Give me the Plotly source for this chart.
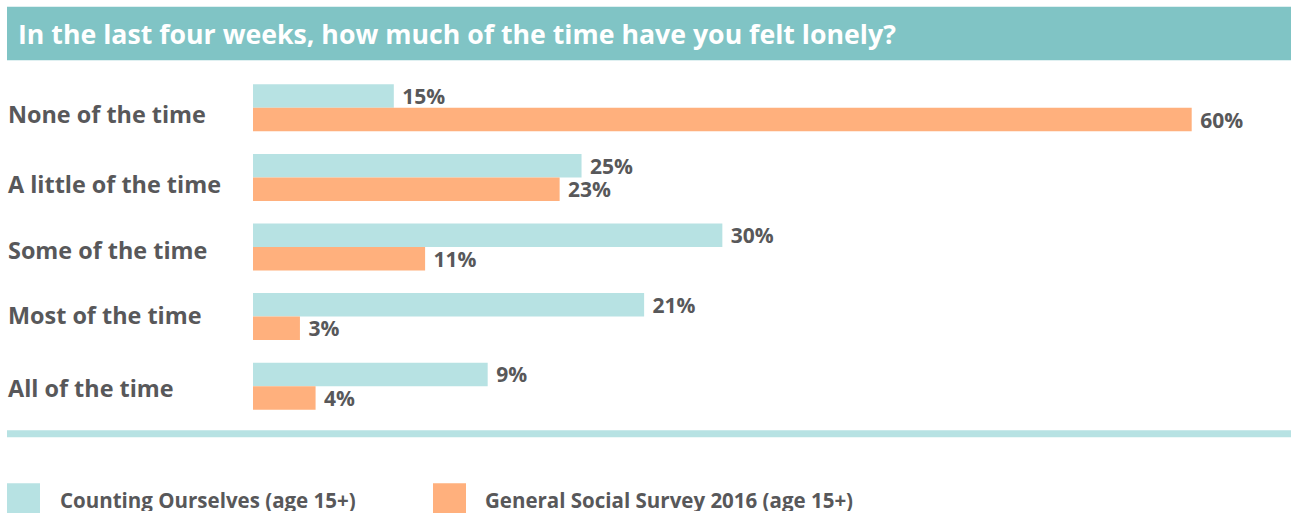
import plotly.graph_objects as go

# ---- data ----
categories = ["None of the time", "A little of the time", "Some of the time",
              "Most of the time", "All of the time"]
# bar lengths as drawn in the reference (percentage-point scale)
counting_bar = [9, 21, 30, 25, 15]
gss_bar = [60, 19.6, 11, 3, 4]
# value labels as printed in the reference
counting_labels = ["15%", "25%", "30%", "21%", "9%"]
gss_labels = ["60%", "23%", "11%", "3%", "4%"]
series_names = ["Counting Ourselves (age 15+)", "General Social Survey 2016 (age 15+)"]
title_text = "In the last four weeks, how much of the time have you felt lonely?"

# ---- style ----
W_PX, H_PX = 1291, 513
L, R_M, T, B_M = 253, 40, 73.25, 92.25
PW = W_PX - L - R_M
PH = H_PX - T - B_M
TEAL = "#b7e2e3"
ORANGE = "#ffb07d"
BANNER = "#80c4c5"
GREY = "#58585a"
FONT = "Open Sans"
XMAX = PW / (938.7 / 60)


def px_x(p):
    return (p - L) / PW


def px_y(p):
    return (T + PH - p) / PH


fig = go.Figure()
for vals, labels, color, name in [(counting_bar, counting_labels, TEAL, series_names[0]),
                                  (gss_bar, gss_labels, ORANGE, series_names[1])]:
    fig.add_trace(go.Bar(
        y=categories, x=vals, orientation="h", name=name,
        marker=dict(color=color, line=dict(width=0)),
        text=[" " + t for t in labels], textposition="outside",
        constraintext="none", cliponaxis=False,
        textfont=dict(family=FONT, size=21, color=GREY, weight="bold"),
        hoverinfo="skip", showlegend=False))

shapes = [
    # title banner
    dict(type="rect", xref="paper", yref="paper", x0=px_x(7), x1=px_x(1291),
         y0=px_y(60.5), y1=px_y(7), fillcolor=BANNER, line=dict(width=0), layer="below"),
    # bottom rule
    dict(type="rect", xref="paper", yref="paper", x0=px_x(7), x1=px_x(1291),
         y0=px_y(437), y1=px_y(430), fillcolor=TEAL, line=dict(width=0)),
    # legend swatches
    dict(type="rect", xref="paper", yref="paper", x0=px_x(7), x1=px_x(40),
         y0=px_y(514), y1=px_y(483), fillcolor=TEAL, line=dict(width=0)),
    dict(type="rect", xref="paper", yref="paper", x0=px_x(433), x1=px_x(466),
         y0=px_y(514), y1=px_y(483), fillcolor=ORANGE, line=dict(width=0)),
]

annotations = [
    dict(text=title_text, xref="paper", yref="paper", x=px_x(16), y=px_y(34),
         xanchor="left", yanchor="middle", showarrow=False,
         font=dict(family=FONT, size=26.7, color="white", weight="bold")),
    dict(text=series_names[0], xref="paper", yref="paper", x=px_x(58), y=px_y(500),
         xanchor="left", yanchor="middle", showarrow=False, height=22,
         font=dict(family=FONT, size=20.5, color=GREY, weight="bold")),
    dict(text=series_names[1], xref="paper", yref="paper", x=px_x(483), y=px_y(500),
         xanchor="left", yanchor="middle", showarrow=False, height=22,
         font=dict(family=FONT, size=20.5, color=GREY, weight="bold")),
]
label_y = [114, 184, 250, 315, 388]
for cat, ly in zip(categories, label_y):
    annotations.append(dict(text=cat, xref="paper", yref="paper", x=px_x(6), y=px_y(ly),
                            xanchor="left", yanchor="middle", showarrow=False,
                            font=dict(family=FONT, size=23.4, color=GREY, weight="bold")))

fig.update_layout(
    width=W_PX, height=H_PX,
    margin=dict(l=L, r=R_M, t=T, b=B_M, pad=0),
    paper_bgcolor="white", plot_bgcolor="white",
    barmode="group", bargap=0.324, bargroupgap=0,
    xaxis=dict(range=[0, XMAX], visible=False, fixedrange=True),
    yaxis=dict(range=[4.5, -0.5], type="category", showticklabels=False,
               showgrid=False, zeroline=False, showline=False, ticks="", fixedrange=True),
    shapes=shapes, annotations=annotations,
    showlegend=False,
)

fig.write_html("out.html", config={"displayModeBar": False},
               post_script="document.body.style.margin='0';document.body.style.overflow='hidden';")
